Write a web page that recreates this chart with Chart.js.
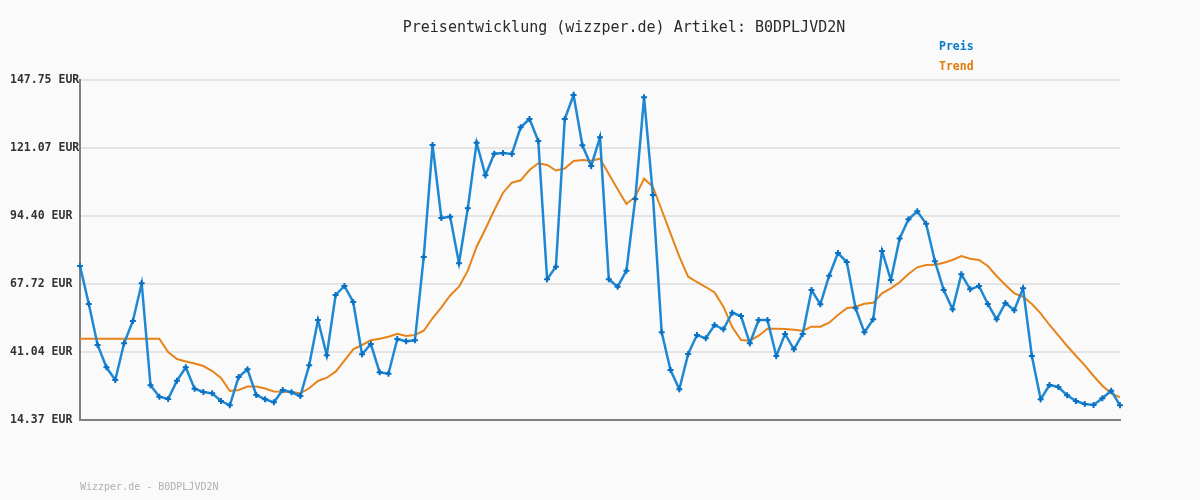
<!DOCTYPE html>
<html>
<head>
<meta charset="utf-8">
<script src="https://cdn.jsdelivr.net/npm/chart.js@4"></script>
<style>
  html, body { margin: 0; padding: 0; background: #fafafa; }
  #wrap { width: 1200px; height: 500px; }
</style>
</head>
<body>
<div id="wrap"><canvas id="preis" width="1200" height="500"></canvas></div>
<script>
let preis = [
  74.78, 59.88, 43.79, 35.04, 30.06, 44.46, 53.21, 67.99, 27.98, 23.51,
  22.61, 29.79, 35.04, 26.65, 25.35, 24.84, 21.82, 20.14, 31.24, 34.26,
  24.18, 22.49, 21.31, 26.14, 25.24, 23.78, 35.83, 53.6, 39.75, 63.41,
  66.94, 60.66, 40.14, 44.18, 33.08, 32.53, 46.15, 45.24, 45.64, 78.31,
  122.25, 93.61, 94.12, 75.84, 97.42, 123.15, 110.36, 118.84, 119.11, 118.72,
  129.19, 132.45, 123.82, 69.57, 74.51, 132.45, 141.86, 122.13, 114.01, 125.27,
  69.57, 66.66, 72.94, 101.07, 140.96, 102.64, 48.77, 33.98, 26.41, 40.26,
  47.71, 46.42, 51.64, 49.95, 56.46, 55.17, 44.46, 53.6, 53.6, 39.48,
  48.11, 42.11, 48.11, 65.37, 59.76, 70.98, 79.88, 76.35, 58.19, 48.77,
  53.87, 80.67, 69.29, 85.57, 93.1, 96.24, 91.38, 76.63, 65.37, 57.8,
  71.53, 65.64, 66.94, 59.88, 53.87, 60.27, 57.4, 66.03, 39.48, 22.49,
  28.1, 27.32, 24.06, 21.82, 20.65, 20.25, 22.88, 25.86, 20.14
];

let trend = [
  46.26, 46.26, 46.26, 46.26, 46.26, 46.26, 46.26, 46.26, 46.26, 46.26,
  41.05, 38.3, 37.32, 36.53, 35.55, 33.59, 30.85, 25.75, 26.14, 27.51,
  27.51, 26.73, 25.55, 25.47, 25.35, 24.84, 26.81, 29.67, 30.96, 33.32,
  37.63, 42.11, 43.79, 45.64, 46.26, 47.05, 48.22, 47.32, 47.71, 49.4,
  54.27, 58.58, 63.21, 66.66, 72.94, 82.35, 89.3, 96.63, 103.54, 107.46,
  108.4, 112.44, 115.07, 114.4, 112.25, 113.03, 115.97, 116.37, 116.05, 116.88,
  110.87, 104.87, 99.1, 101.97, 109.03, 105.89, 96.75, 87.61, 78.43, 70.59,
  68.51, 66.54, 64.39, 58.82, 50.85, 45.75, 45.48, 47.44, 50.19, 50.19,
  50.07, 49.79, 49.4, 50.97, 50.97, 52.54, 55.56, 58.19, 58.82, 59.99,
  60.39, 64.07, 66.03, 68.39, 71.64, 74.27, 75.17, 75.29, 76.08, 77.14,
  78.71, 77.65, 77.14, 74.78, 70.86, 67.33, 64.07, 62.74, 59.88, 56.23,
  51.64, 47.6, 43.4, 39.59, 35.83, 31.63, 27.83, 24.84, 23.28
];

let yTicks = [14.37, 41.04, 67.72, 94.40, 121.07, 147.75];

let labels = preis.map((v, i) => i + 1);

let mono = "'DejaVu Sans Mono', 'Liberation Mono', monospace";

// Titel, Legende und Fusszeile direkt auf die Leinwand
let textPlugin = {
  id: "texte",
  beforeDraw(chart) {
    let ctx = chart.ctx;
    ctx.save();
    ctx.fillStyle = "#fafafa";
    ctx.fillRect(0, 0, chart.width, chart.height);
    ctx.restore();
  },
  afterDraw(chart) {
    let ctx = chart.ctx;
    ctx.save();
    ctx.textBaseline = "middle";

    ctx.font = `15px ${mono}`;
    ctx.fillStyle = "#2a2a2a";
    ctx.textAlign = "center";
    ctx.fillText("Preisentwicklung (wizzper.de) Artikel: B0DPLJVD2N", 624, 28);

    ctx.textAlign = "left";
    ctx.font = `bold 11.5px ${mono}`;
    ctx.fillStyle = "#0a7bc8";
    ctx.fillText("Preis", 939, 47);
    ctx.fillStyle = "#e07b0c";
    ctx.fillText("Trend", 939, 67);

    ctx.font = `10px ${mono}`;
    ctx.fillStyle = "#b0b0b0";
    ctx.fillText("Wizzper.de - B0DPLJVD2N", 80, 487);
    ctx.restore();
  },
};

new Chart(document.getElementById("preis"), {
  type: "line",
  data: {
    labels: labels,
    datasets: [
      {
        label: "Trend",
        data: trend,
        borderColor: "#e6841a",
        borderWidth: 2,
        pointRadius: 0,
        tension: 0,
        order: 2,
      },
      {
        label: "Preis",
        data: preis,
        borderColor: "#1f88d2",
        borderWidth: 2.5,
        pointStyle: "cross",
        pointRadius: 3,
        pointBorderWidth: 2,
        pointBorderColor: "#0a70c2",
        pointBackgroundColor: "#0a70c2",
        tension: 0,
        order: 1,
      },
    ],
  },
  options: {
    responsive: false,
    animation: false,
    devicePixelRatio: 1,
    layout: {
      padding: { left: 10, right: 80, top: 80, bottom: 0 },
    },
    plugins: {
      legend: { display: false },
      title: { display: false },
      tooltip: { enabled: false },
    },
    scales: {
      x: {
        type: "category",
        offset: false,
        grid: { display: false, drawTicks: false },
        border: { display: true, color: "#808080", width: 2 },
        ticks: { display: false },
        afterFit: (s) => {
          s.height = 80;
        },
      },
      y: {
        min: 14.37,
        max: 147.75,
        afterBuildTicks: (s) => {
          s.ticks = yTicks.map((v) => ({ value: v }));
        },
        afterFit: (s) => {
          s.width = 70;
        },
        grid: { color: "#e4e4e4", lineWidth: 2, drawTicks: false },
        border: { display: true, color: "#808080", width: 2 },
        ticks: {
          crossAlign: "far",
          padding: 4,
          color: "#333",
          font: { family: mono, size: 11.5, weight: "bold" },
          callback: (v) => Number(v).toFixed(2) + " EUR",
        },
      },
    },
  },
  plugins: [textPlugin],
});
</script>
</body>
</html>
